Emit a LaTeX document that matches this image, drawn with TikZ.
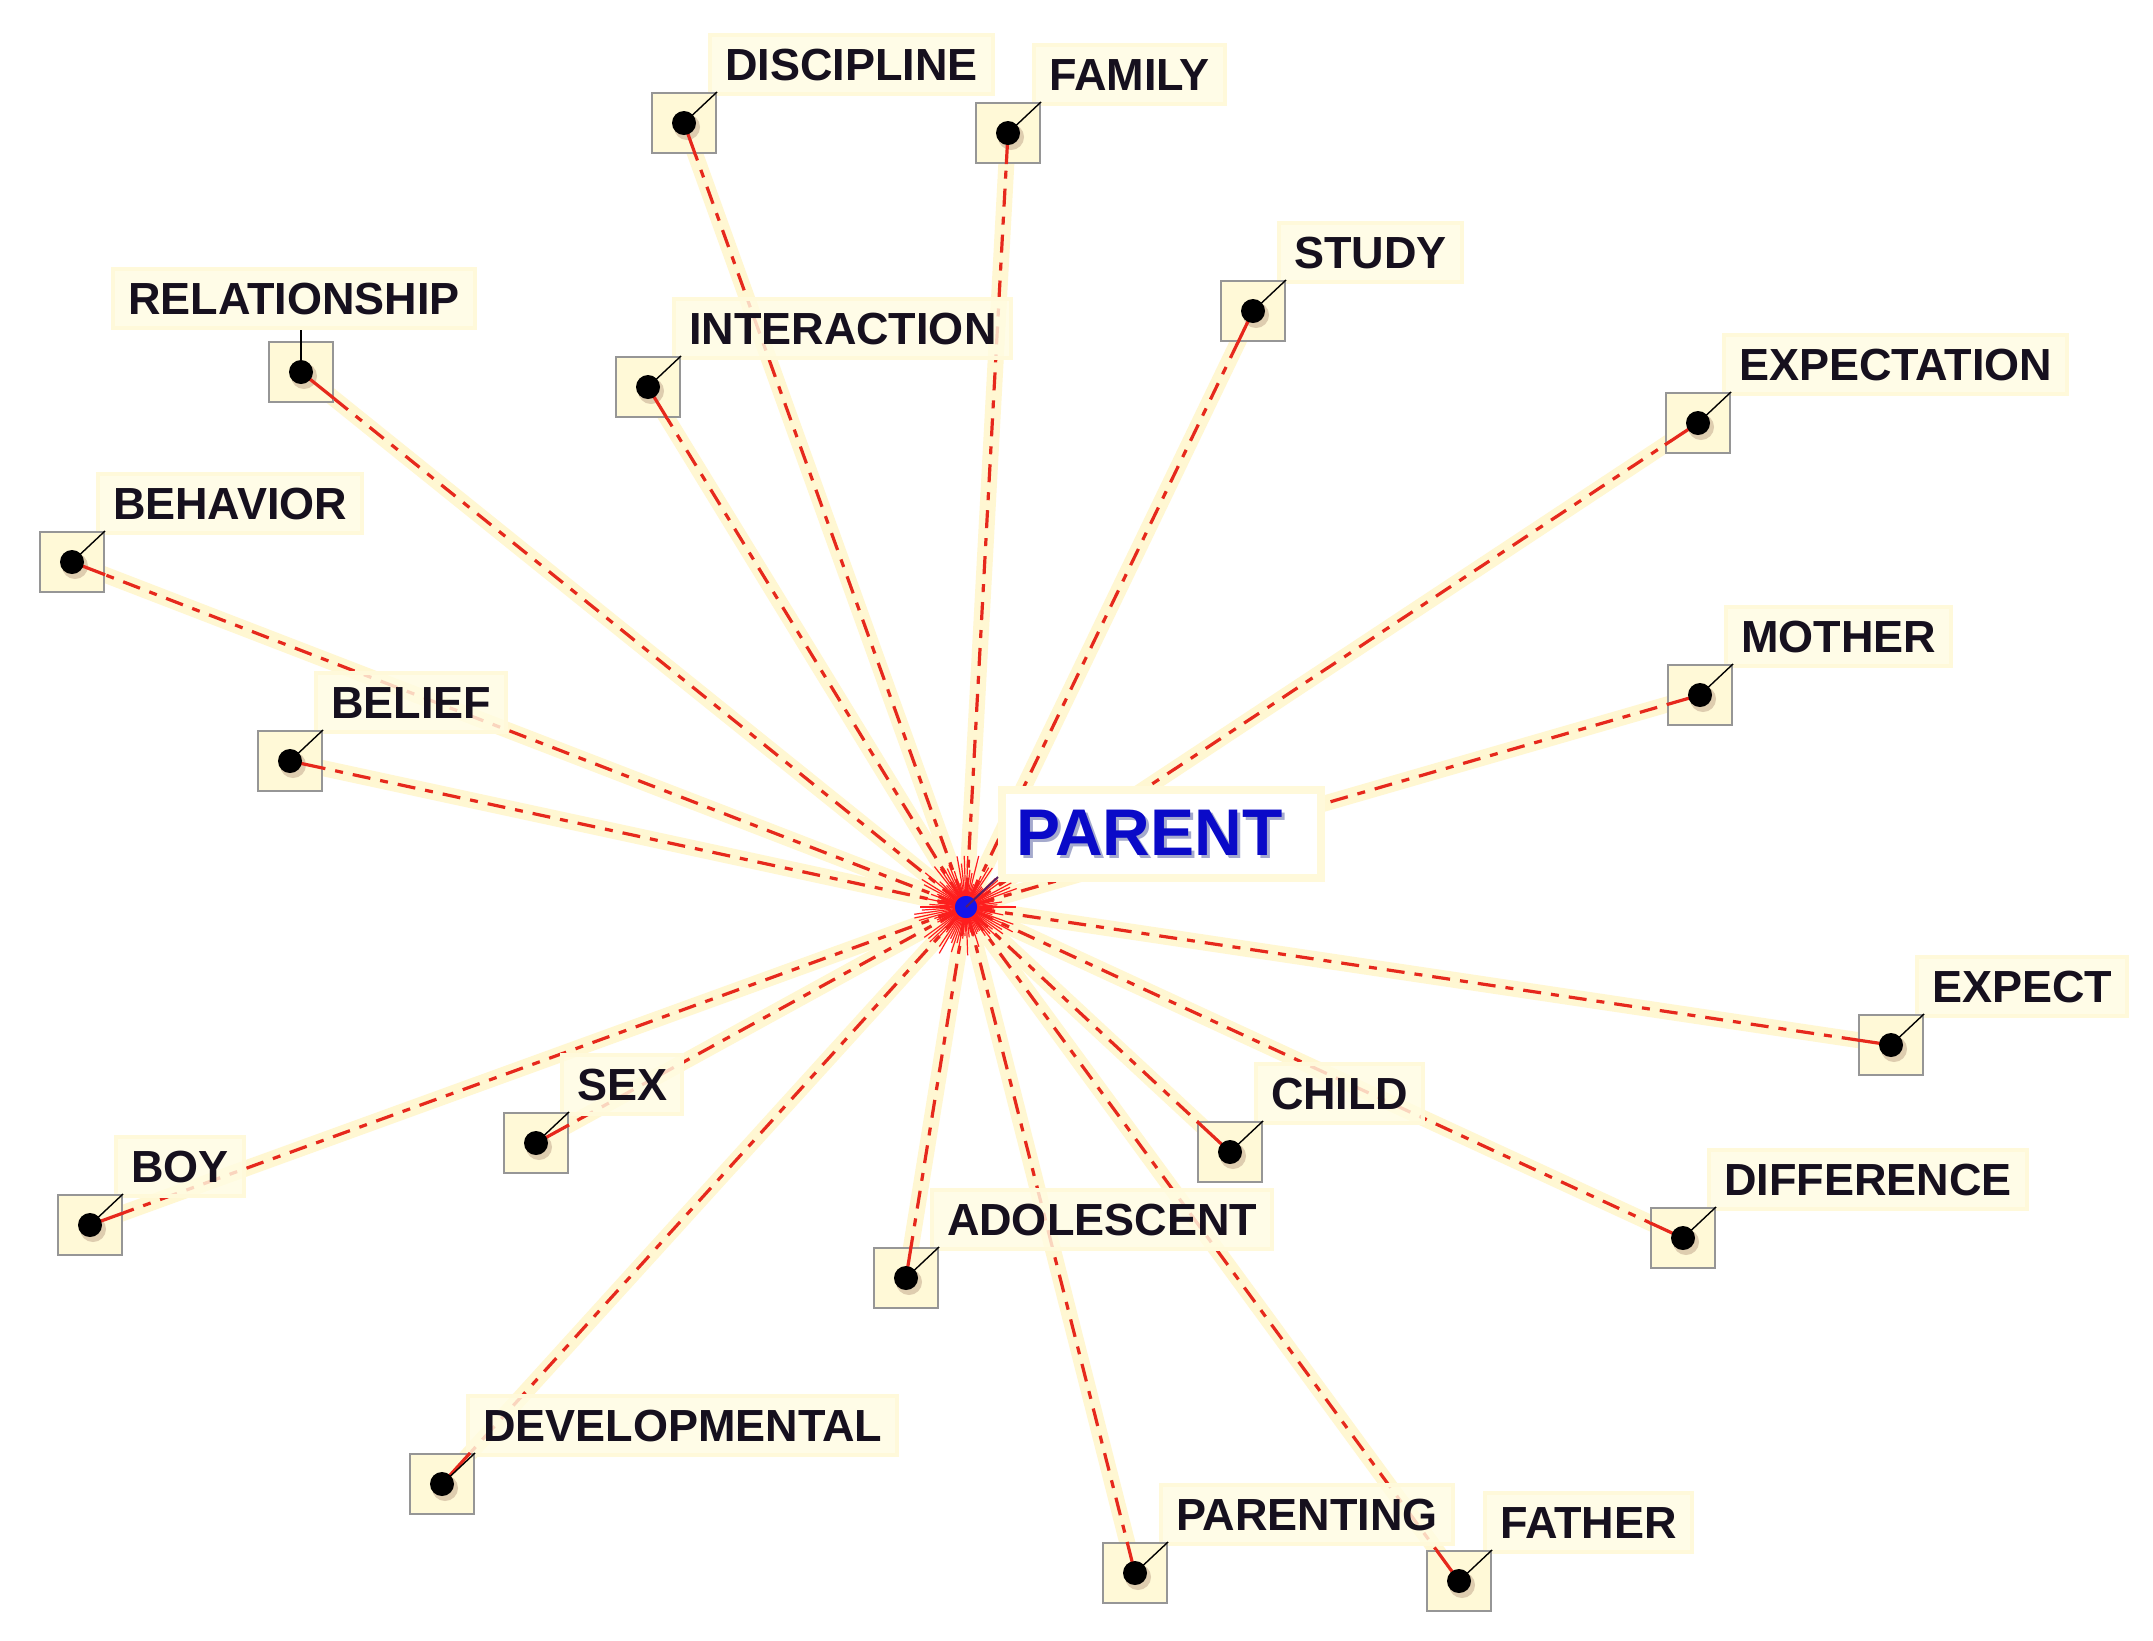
\documentclass[tikz,border=0pt]{standalone}
\usepackage{fontspec}
\setmainfont{Liberation Sans}
\usetikzlibrary{calc}
\pgfdeclarelayer{under}
\pgfdeclarelayer{lines}
\pgfsetlayers{under,lines,main}

\definecolor{halo}{RGB}{255,247,210}
\definecolor{lblfill}{RGB}{255,252,226}
\definecolor{lbledge}{RGB}{255,249,218}
\definecolor{sqfill}{RGB}{255,249,215}
\definecolor{sqedge}{RGB}{150,150,150}
\definecolor{conred}{RGB}{230,40,28}
\definecolor{burst}{RGB}{255,30,30}
\definecolor{hubblue}{RGB}{20,20,235}
\definecolor{ptextblue}{RGB}{10,10,200}
\definecolor{pshadow}{RGB}{165,170,205}
\definecolor{dotshadow}{RGB}{222,205,175}
\definecolor{labtext}{RGB}{22,16,30}
\definecolor{hubtickc}{RGB}{90,30,100}

\tikzset{
  lbl/.style={fill=lblfill, draw=lbledge, line width=2pt, fill opacity=0.82, text opacity=1,
    inner xsep=7.5pt, inner ysep=7pt, anchor=base west,
    font=\bfseries\fontsize{22.5}{26}\selectfont, text=labtext},
  sqbox/.style={draw=sqedge, fill=sqfill, line width=1.1pt, minimum width=32pt, minimum height=30pt, inner sep=0pt},
  dotn/.style={circle, fill=black, inner sep=0pt, minimum size=12pt},
  dotsh/.style={circle, fill=dotshadow, inner sep=0pt, minimum size=13pt},
  conn/.style={draw=conred, line width=1.6pt, dash pattern=on 9pt off 5pt on 4pt off 5pt},
  conseg/.style={draw=conred, line width=1.6pt},
  halostyle/.style={draw=halo, line width=8pt},
  tickline/.style={draw=black, line width=0.7pt},
  pbox/.style={fill=white, draw=lbledge, line width=4pt, inner xsep=7pt, inner ysep=10pt, anchor=base west,
    font=\bfseries\fontsize{33}{38}\selectfont, text=ptextblue},
}

\begin{document}
\begin{tikzpicture}[x=0.5pt,y=-0.5pt]
\useasboundingbox (0,0) rectangle (2153,1640);
\begin{pgfonlayer}{under}
\fill[white] (0,0) rectangle (2153,1640);
\end{pgfonlayer}

% hub
\node[circle, fill=hubblue, inner sep=0pt, minimum size=11pt] (hub) at (966,907) {};

% concepts
\foreach \n/\x/\y/\t in {disc/684/123/DISCIPLINE, fam/1008/133/FAMILY, stud/1253/311/STUDY,
  expn/1698/423/EXPECTATION, moth/1700/695/MOTHER, expt/1891/1045/EXPECT,
  diff/1683/1238/DIFFERENCE, chil/1230/1152/CHILD, adol/906/1278/ADOLESCENT,
  prnt/1135/1573/PARENTING, fath/1459/1581/FATHER, devl/442/1484/DEVELOPMENTAL,
  boy/90/1225/BOY, sex/536/1143/SEX, beli/290/761/BELIEF, behv/72/562/BEHAVIOR,
  intr/648/387/INTERACTION}{
  \node[lbl] (l\n) at (\x+24,\y-43) {\t};
  \node[sqbox] (s\n) at (\x,\y) {};
  \node[dotsh] (h\n) at (\x+3,\y+4) {};
  \path (s\n) -- (hub) coordinate[pos=0] (e\n);
  \draw[conseg] (s\n.center) -- (e\n);
  \node[dotn] (d\n) at (\x,\y) {};
  \draw[tickline] (d\n.center) -- (s\n.north east);
  \begin{pgfonlayer}{under}
    \draw[halostyle] (hub) -- (d\n);
  \end{pgfonlayer}
  \begin{pgfonlayer}{lines}
    \draw[conn] (hub) -- (d\n);
  \end{pgfonlayer}
}

% RELATIONSHIP (label above-left, vertical tick)
\node[lbl] (lrel) at (111,314) {RELATIONSHIP};
\node[sqbox] (srel) at (301,372) {};
\node[dotsh] (hrel) at (304,376) {};
\path (srel) -- (hub) coordinate[pos=0] (erel);
\draw[conseg] (srel.center) -- (erel);
\node[dotn] (drel) at (301,372) {};
\draw[draw=black, line width=1.1pt] (drel.center) -- (drel.center |- lrel.south);
\begin{pgfonlayer}{under}
  \draw[halostyle] (hub) -- (drel);
\end{pgfonlayer}
\begin{pgfonlayer}{lines}
  \draw[conn] (hub) -- (drel);
\end{pgfonlayer}

% starburst
\begin{pgfonlayer}{lines}
\pgfmathsetseed{7}
\foreach \a in {0,4,...,356}{
  \pgfmathsetmacro\rr{24+30*rnd}
  \draw[burst, line width=0.6pt] (hub.center) -- ++(\a:\rr);
}
\end{pgfonlayer}

% PARENT label
\node[pbox] (plab) at (998,855) {\makebox[145.5pt][l]{\makebox[0pt][l]{\hspace{1.5pt}\raisebox{-1.5pt}{\color{pshadow}PARENT}}PARENT}};
\node[circle, fill=hubblue, inner sep=0pt, minimum size=11pt] (hubtop) at (hub) {};
\coordinate (hubtick) at (998,877);
\draw[draw=hubtickc, line width=1pt] (hubtop.center) -- (hubtick);
\end{tikzpicture}
\end{document}
